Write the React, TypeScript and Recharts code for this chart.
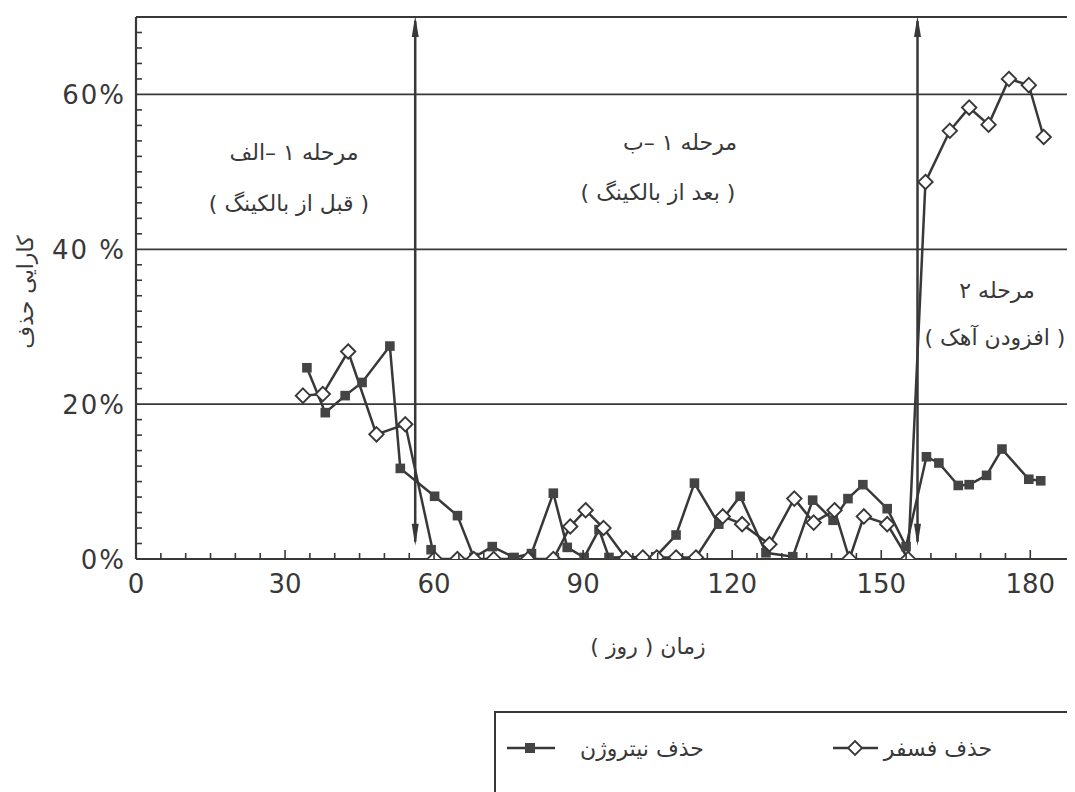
import React from 'react';
import { LineChart, Line, XAxis, YAxis, ReferenceLine } from 'recharts';

// ---- data (days, removal %) ----
const nitrogenDays = [34.4, 38.1, 42.1, 45.5, 51.1, 53.2, 60.1, 64.7, 68.0, 71.7, 76.1, 79.6, 84.0, 86.8, 90.2, 93.2, 95.2, 104.6, 108.7, 112.4, 117.3, 121.6, 126.8, 132.2, 136.2, 140.3, 143.3, 146.3, 151.2, 155.0, 159.1, 161.6, 165.5, 167.7, 171.2, 174.3, 179.7, 182.1];
const nitrogenValues = [24.7, 18.9, 21.1, 22.8, 27.5, 11.7, 8.1, 5.6, 0.2, 1.6, 0.2, 0.7, 8.5, 1.5, 0.2, 3.8, 0.2, 0.3, 3.1, 9.8, 4.5, 8.1, 0.8, 0.3, 7.6, 5.0, 7.8, 9.6, 6.5, 1.6, 13.2, 12.4, 9.5, 9.6, 10.8, 14.2, 10.3, 10.1];
const nitrogenStrayDays = [59.4];
const nitrogenStrayValues = [1.2];
const phosphorusDays = [33.6, 37.6, 42.7, 48.4, 54.2, 60.1, 64.7, 68.0, 72.0, 78.9, 84.0, 87.4, 90.5, 94.1, 98.6, 102.0, 104.8, 108.7, 112.7, 118.1, 122.0, 127.5, 132.5, 136.4, 140.6, 143.6, 146.5, 151.2, 155.4, 158.9, 163.8, 167.7, 171.6, 175.7, 179.7, 182.7];
const phosphorusValues = [21.1, 21.3, 26.8, 16.1, 17.4, 0, 0, 0, 0, 0, 0, 4.2, 6.3, 4.0, 0.1, 0.2, 0.2, 0.2, 0.2, 5.5, 4.5, 1.9, 7.8, 4.7, 6.3, 0, 5.5, 4.5, 0, 48.7, 55.3, 58.3, 56.1, 62.0, 61.2, 54.5];

const xTicks = [0, 5, 10, 15, 20, 25, 30, 35, 40, 45, 50, 55, 60, 65, 70, 75, 80, 85, 90, 95, 100, 105, 110, 115, 120, 125, 130, 135, 140, 145, 150, 155, 160, 165, 170, 175, 180];
const xLabelTicks = [0, 30, 60, 90, 120, 150, 180];
const yTicks = [0, 2, 4, 6, 8, 10, 12, 14, 16, 18, 20, 22, 24, 26, 28, 30, 32, 34, 36, 38, 40, 42, 44, 46, 48, 50, 52, 54, 56, 58, 60, 62, 64, 66, 68, 70];
const yLabelTicks = [0, 20, 40, 60];
const yLabelTexts = ['0%', '20%', '40 %', '60%'];
const gridValues = [20, 40, 60];
const phaseBoundaries = [56.2, 157.3];
const seriesNames = ['حذف نیتروژن', 'حذف فسفر'];
const phaseTitles = ['مرحله ۱ –الف', 'مرحله ۱ –ب', 'مرحله ۲'];
const phaseSubtitles = ['( قبل از بالکینگ )', '( بعد از بالکینگ )', '( افزودن آهک )'];
const xTitle = 'زمان ( روز )';
const yTitle = 'کارایی حذف';

const nitrogenData = nitrogenDays.map((d, i) => ({ day: d, value: nitrogenValues[i] }));
const nitrogenStray = nitrogenStrayDays.map((d, i) => ({ day: d, value: nitrogenStrayValues[i] }));
const phosphorusData = phosphorusDays.map((d, i) => ({ day: d, value: phosphorusValues[i] }));

const INK = '#383838';
const FONT = "'DejaVu Sans', sans-serif";

const XTick = (props: any) => {
  const { x, y, payload } = props;
  const v = payload.value;
  const major = xLabelTicks.includes(v);
  return (
    <g>
      <line x1={x} y1={y} x2={x} y2={y - (major ? 9 : 6)} stroke={INK} strokeWidth={1.6} />
      {major && (
        <text x={x} y={y + 25} textAnchor="middle" dominantBaseline="central" fontFamily={FONT} fontSize={26} fill={INK}>
          {String(v)}
        </text>
      )}
    </g>
  );
};

const YTick = (props: any) => {
  const { x, y, payload } = props;
  const v = payload.value;
  const idx = yLabelTicks.indexOf(v);
  return (
    <g>
      {idx < 0 && <line x1={x} y1={y} x2={x + 6} y2={y} stroke={INK} strokeWidth={1.6} />}
      {idx >= 0 && (
        <text x={x - 10} y={y + 1} textAnchor="end" dominantBaseline="central" fontFamily={FONT} fontSize={26} letterSpacing={2} fill={INK}>
          {yLabelTexts[idx]}
        </text>
      )}
    </g>
  );
};

const renderSquare = (props: any) => {
  const { cx, cy, index } = props;
  if (cx == null || cy == null) return <g key={`sq-${index}`} />;
  return <rect key={`sq-${index}-${cx}`} x={cx - 4.8} y={cy - 4.8} width={9.6} height={9.6} fill="#444" />;
};

const renderDiamond = (props: any) => {
  const { cx, cy, index } = props;
  if (cx == null || cy == null) return <g key={`dm-${index}`} />;
  const r = 7.2;
  return (
    <path
      key={`dm-${index}`}
      d={`M${cx},${cy - r} L${cx + r},${cy} L${cx},${cy + r} L${cx - r},${cy} Z`}
      fill="#ffffff"
      stroke={INK}
      strokeWidth={1.9}
    />
  );
};

const renderArrow = (props: any) => {
  const { x1, y1, x2, y2 } = props;
  const x = x1;
  const top = Math.min(y1, y2);
  const bottom = Math.max(y1, y2);
  return (
    <g>
      <line x1={x} y1={top + 4} x2={x} y2={bottom - 4} stroke={INK} strokeWidth={2.5} />
      <path d={`M${x},${top - 1} L${x - 3.5},${top + 20} L${x + 3.5},${top + 20} Z`} fill={INK} />
      <path d={`M${x},${bottom} L${x - 3.5},${bottom - 22} L${x + 3.5},${bottom - 22} Z`} fill={INK} />
    </g>
  );
};

const textStyle = { fontFamily: FONT, fontSize: 22, fill: INK } as const;

export default function App() {
  return (
    <div style={{ position: 'relative', width: 1067, height: 784, background: '#fff', overflow: 'hidden' }}>
      <LineChart width={1067} height={784} margin={{ top: 9, right: 0, left: 0, bottom: 193 }}>
        <XAxis
          dataKey="day"
          type="number"
          domain={[0, 189]}
          ticks={xTicks}
          interval={0}
          allowDataOverflow
          height={40}
          tickSize={0}
          tickMargin={0}
          tick={<XTick />}
          axisLine={{ stroke: INK, strokeWidth: 2.2 }}
          tickLine={false}
        />
        <YAxis
          type="number"
          domain={[0, 70]}
          ticks={yTicks}
          interval={0}
          allowDataOverflow
          width={128}
          tickSize={0}
          tickMargin={0}
          tick={<YTick />}
          axisLine={{ stroke: INK, strokeWidth: 2.2 }}
          tickLine={false}
        />
        {gridValues.map((g) => (
          <ReferenceLine key={`g-${g}`} y={g} stroke={INK} strokeWidth={1.8} />
        ))}
        <ReferenceLine y={70} stroke={INK} strokeWidth={2} />
        {phaseBoundaries.map((b) => (
          <ReferenceLine
            key={`b-${b}`}
            segment={[{ x: b, y: 70 }, { x: b, y: 1.7 }]}
            shape={renderArrow}
          />
        ))}
        <Line data={nitrogenData} dataKey="value" type="linear" stroke={INK} strokeWidth={2.5} dot={renderSquare} isAnimationActive={false} />
        <Line data={nitrogenStray} dataKey="value" type="linear" stroke="none" dot={renderSquare} isAnimationActive={false} />
        <Line data={phosphorusData} dataKey="value" type="linear" stroke={INK} strokeWidth={2.5} dot={renderDiamond} isAnimationActive={false} />
      </LineChart>

      <svg width={1067} height={784} style={{ position: 'absolute', left: 0, top: 0, pointerEvents: 'none' }}>
        <text x={286} y={144} textAnchor="middle" dominantBaseline="central" direction="rtl" {...textStyle}>{phaseTitles[0]}</text>
        <text x={281} y={195} textAnchor="middle" dominantBaseline="central" direction="rtl" {...textStyle}>{phaseSubtitles[0]}</text>
        <text x={672} y={134} textAnchor="middle" dominantBaseline="central" direction="rtl" {...textStyle}>{phaseTitles[1]}</text>
        <text x={650} y={184} textAnchor="middle" dominantBaseline="central" direction="rtl" {...textStyle}>{phaseSubtitles[1]}</text>
        <text x={989} y={282} textAnchor="middle" dominantBaseline="central" direction="rtl" {...textStyle}>{phaseTitles[2]}</text>
        <text x={987} y={329} textAnchor="middle" dominantBaseline="central" direction="rtl" {...textStyle}>{phaseSubtitles[2]}</text>
        <text x={17} y={284} textAnchor="middle" dominantBaseline="central" direction="rtl" transform="rotate(-90 17 284)" {...textStyle}>{yTitle}</text>
        <text x={640} y={638} textAnchor="middle" dominantBaseline="central" direction="rtl" {...textStyle}>{xTitle}</text>

        {/* legend */}
        <path d="M487,790 L487,704 L1067,704" fill="none" stroke={INK} strokeWidth={2} />
        <line x1={499} y1={740} x2={547} y2={740} stroke={INK} strokeWidth={2.4} />
        <rect x={517} y={735} width={10} height={10} fill="#444" />
        <text x={634} y={740} textAnchor="middle" dominantBaseline="central" direction="rtl" {...textStyle}>{seriesNames[0]}</text>
        <line x1={825} y1={740} x2={870} y2={740} stroke={INK} strokeWidth={2.4} />
        <path d="M847,733 L854,740 L847,747 L840,740 Z" fill="#fff" stroke={INK} strokeWidth={1.8} />
        <text x={930} y={740} textAnchor="middle" dominantBaseline="central" direction="rtl" {...textStyle}>{seriesNames[1]}</text>
      </svg>
    </div>
  );
}
